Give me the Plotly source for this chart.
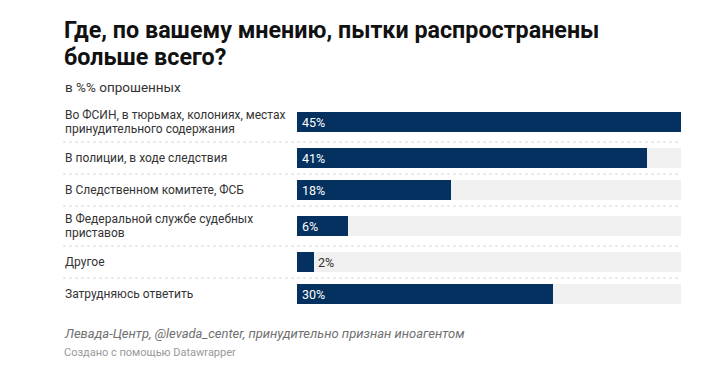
import plotly.graph_objects as go

# ---- data ----
title_lines = ["Где, по вашему мнению, пытки распространены", "больше всего?"]
subtitle = "в %% опрошенных"
categories = [
    "Во ФСИН, в тюрьмах, колониях, местах\nпринудительного содержания",
    "В полиции, в ходе следствия",
    "В Следственном комитете, ФСБ",
    "В Федеральной службе судебных\nприставов",
    "Другое",
    "Затрудняюсь ответить",
]
values = [45, 41, 18, 6, 2, 30]
value_labels = ["45%", "41%", "18%", "6%", "2%", "30%"]
source = "Левада-Центр, @levada_center, принудительно признан иноагентом"
credit = "Создано с помощью Datawrapper"

# ---- style / layout ----
W, H = 726, 371
PL, PR = 297, 681          # plot area left/right in px
PT, PB = 102, 310          # plot area top/bottom in px
LABEL_X = 63
BAR_COLOR = "#04315f"
BG_COLOR = "#f0f0f0"
FONT = "Roboto, Arial, sans-serif"
BAR_W = 20.5

xmax = max(values)
px_x = lambda px: (px - PL) / (PR - PL)      # pixel x -> paper x
px_y = lambda py: (PB - py) / (PB - PT)      # pixel y -> paper y

# row geometry (y in px below plot top)
lines_per_row = [len(c.split("\n")) for c in categories]
row_h = [32 + 8 * (n - 1) for n in lines_per_row]
centers, bounds = [], []
acc = 0
for h in row_h:
    centers.append(acc + h / 2)
    acc += h
    bounds.append(acc)

fig = go.Figure()
fig.add_trace(go.Bar(
    y=centers, x=[xmax] * len(values), orientation="h", width=BAR_W,
    marker=dict(color=BG_COLOR, line=dict(width=0)), hoverinfo="skip", showlegend=False,
))
fig.add_trace(go.Bar(
    y=centers, x=values, orientation="h", width=BAR_W,
    marker=dict(color=BAR_COLOR, line=dict(width=0)), showlegend=False,
))

annotations = []
# category labels
for cat, yc in zip(categories, centers):
    parts = cat.split("\n")
    n = len(parts)
    for i, p in enumerate(parts):
        annotations.append(dict(
            xref="paper", yref="y", x=px_x(LABEL_X), y=yc + (i - (n - 1) / 2) * 13.5,
            text=p, showarrow=False, xanchor="left", yanchor="middle",
            font=dict(family=FONT, size=12, color="#333333"),
        ))
# value labels
for v, lab, yc in zip(values, value_labels, centers):
    inside = v >= 4
    annotations.append(dict(
        xref="x", yref="y", x=0 if inside else v, y=yc, text=lab, showarrow=False,
        xanchor="left", yanchor="middle", xshift=3 if inside else 2,
        font=dict(family=FONT, size=12.5, color="#ffffff" if inside else "#333333"),
    ))
# title / subtitle
for i, t in enumerate(title_lines):
    annotations.append(dict(
        xref="paper", yref="paper", x=px_x(LABEL_X - 1), y=px_y(30 + i * 26.5), text="<b>" + t + "</b>",
        showarrow=False, xanchor="left", yanchor="middle",
        font=dict(family="Roboto, sans-serif", size=23.3, color="#111111"),
    ))
annotations.append(dict(
    xref="paper", yref="paper", x=px_x(LABEL_X), y=px_y(87.5), text=subtitle, showarrow=False,
    xanchor="left", yanchor="middle", font=dict(family=FONT, size=13.5, color="#333333"),
))
# footer
annotations.append(dict(
    xref="paper", yref="paper", x=px_x(LABEL_X - 1), y=px_y(333), text="<i>" + source + "</i>", showarrow=False,
    xanchor="left", yanchor="middle", font=dict(family=FONT, size=13, color="#707070"),
))
annotations.append(dict(
    xref="paper", yref="paper", x=px_x(LABEL_X - 1), y=px_y(352.5), text=credit, showarrow=False,
    xanchor="left", yanchor="middle", font=dict(family=FONT, size=11, color="#999999"),
))

shapes = []
for b in bounds[:-1]:
    shapes.append(dict(
        type="line", xref="paper", yref="y", x0=px_x(LABEL_X), x1=1, y0=b, y1=b,
        line=dict(color="#d9d9d9", width=1, dash="dot"),
    ))

fig.update_layout(
    width=W, height=H,
    margin=dict(l=PL, r=W - PR, t=PT, b=H - PB, pad=0),
    paper_bgcolor="white", plot_bgcolor="white",
    barmode="overlay", bargap=0,
    xaxis=dict(range=[0, xmax], visible=False, fixedrange=True),
    yaxis=dict(range=[PB - PT, 0], visible=False, fixedrange=True),
    annotations=annotations, shapes=shapes,
    font=dict(family=FONT),
)

fig.write_html("out.html", config={"displayModeBar": False},
               post_script="document.body.style.margin='0';")
